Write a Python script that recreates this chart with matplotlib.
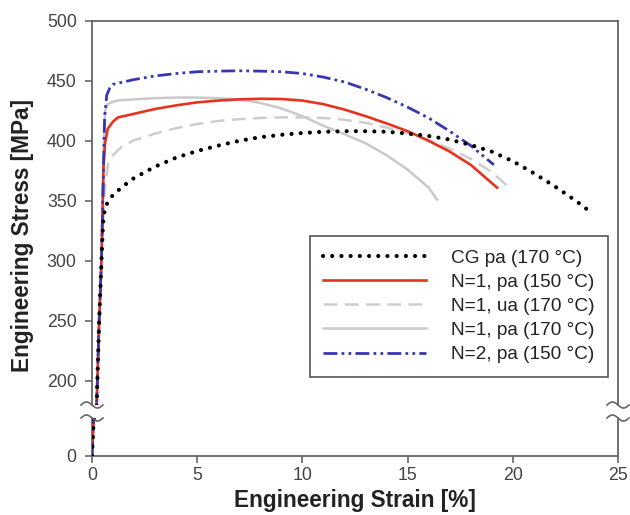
import numpy as np
import matplotlib
matplotlib.use("Agg")
import matplotlib.pyplot as plt
from matplotlib.lines import Line2D

plt.rcParams['font.family'] = ['Liberation Sans', 'DejaVu Sans']

# shared elastic part
elastic_strain = [0, 0.08, 0.22, 0.34, 0.45]
elastic_stress = [0, 30, 180, 250, 300]

cg_strain = [0.52, 0.62, 0.8, 1, 1.5, 2, 3, 4, 5, 6, 7, 8, 9, 10, 11, 12, 13, 14,
             15, 16, 17, 18, 19, 20, 21, 22, 23, 23.75]
cg_stress = [330, 345, 350, 355, 362.5, 369, 378.5, 386, 391.5, 396, 400, 403, 405,
             406.5, 407.5, 408, 408, 407.5, 406, 404, 401, 396.5, 391, 383, 373, 362,
             350, 340]

n1pa150_strain = [0.55, 0.62, 0.75, 1, 1.24, 1.5, 2, 3, 4, 5, 6, 7, 8, 9, 10, 11, 12,
                  13, 14, 15, 16, 17, 18, 19.25]
n1pa150_stress = [380, 398, 410, 416, 419.5, 420.5, 422.5, 426.5, 429.5, 432, 433.5,
                  434.5, 435, 434.8, 433.5, 430.5, 426, 420.5, 414.5, 408, 400, 391,
                  380, 361]

n1ua170_strain = [0.55, 0.62, 0.77, 1, 1.41, 2, 3, 4, 5, 6, 7, 8, 9, 10, 11, 12, 13,
                  14, 15, 16, 17, 18, 19, 19.95]
n1ua170_stress = [340, 362, 381, 388, 395, 400.5, 406, 410.5, 414, 416.5, 418, 419,
                  419.5, 419.5, 419, 417.5, 415, 411, 406.5, 400.5, 393.5, 385, 374, 359]

n1pa170_strain = [0.55, 0.62, 0.75, 1, 1.2, 2, 3, 4, 5, 6, 7, 8, 9, 10, 11, 12, 13,
                  14, 15, 16, 16.4]
n1pa170_stress = [390, 425, 430.5, 432.5, 433.5, 434.5, 435.5, 436, 436, 435.5, 434.5,
                  431.5, 427, 420.5, 412.5, 405.5, 398, 388, 376, 361, 351]

n2pa150_strain = [0.55, 0.6, 0.7, 0.85, 1, 2, 3, 4, 5, 6, 7, 8, 9, 10, 11, 12, 13, 14,
                  15, 16, 17, 18, 19.1]
n2pa150_stress = [380, 420, 438, 444, 447, 451, 454, 456, 457.5, 458, 458.3, 458,
                  457.5, 456, 453, 449, 443, 436, 428, 419, 408, 396, 380]

labels = ["CG pa (170 °C)", "N=1, pa (150 °C)", "N=1, ua (170 °C)",
          "N=1, pa (170 °C)", "N=2, pa (150 °C)"]

W, H = 630, 515
fig = plt.figure(figsize=(W / 100, H / 100), dpi=100)

x0, x1 = 92, 618
top_y0, top_y1 = 20.7, 405
bot_y0, bot_y1 = 418, 455.7
ax = fig.add_axes([x0 / W, 1 - top_y1 / H, (x1 - x0) / W, (top_y1 - top_y0) / H])
axb = fig.add_axes([x0 / W, 1 - bot_y1 / H, (x1 - x0) / W, (bot_y1 - bot_y0) / H])

styles = [
    dict(color='black', lw=3.0, ls=(0, (0.01, 2.2)), dash_capstyle='round', zorder=6),
    dict(color='#e8321e', lw=1.9, ls='-', zorder=4),
    dict(color='#cdcdcd', lw=1.8, ls=(0, (5.5, 3)), zorder=3),
    dict(color='#c9c9c9', lw=1.8, ls='-', zorder=2),
    dict(color='#3a35b0', lw=2.0, ls=(0, (5, 1.5, 1, 1.5, 1, 1.5)), zorder=5),
]
series = [(cg_strain, cg_stress), (n1pa150_strain, n1pa150_stress),
          (n1ua170_strain, n1ua170_stress), (n1pa170_strain, n1pa170_stress),
          (n2pa150_strain, n2pa150_stress)]

handles = []
for (sx, sy), st, lab in zip(series, styles, labels):
    xs = elastic_strain + sx
    ys = elastic_stress + sy
    h, = ax.plot(xs, ys, label=lab, **st)
    axb.plot(xs, ys, **st)
    handles.append(h)

spine_c = '#666666'
for a in (ax, axb):
    a.set_xlim(0, 25)
    for s in a.spines.values():
        s.set_color(spine_c)
        s.set_linewidth(1.3)
    a.tick_params(colors=spine_c, labelcolor='#444444', labelsize=12.8,
                  direction='out', length=5, width=1.2)

ax.set_ylim(180, 500)
ax.set_yticks(np.arange(200, 501, 50))
ax.spines['bottom'].set_visible(False)
ax.tick_params(axis='x', bottom=False, labelbottom=False)
ax.tick_params(axis='y', pad=6)

axb.set_ylim(0, 31)
axb.set_yticks([0])
axb.set_xticks(np.arange(0, 26, 5))
axb.spines['top'].set_visible(False)
axb.tick_params(axis='y', pad=6)
axb.tick_params(axis='x', pad=3)

leg = ax.legend(handles=handles, loc='lower right', bbox_to_anchor=(0.981, 0.073),
                borderaxespad=0, fontsize=13.7, handlelength=5.4, handletextpad=1.3,
                labelspacing=0.36, borderpad=0.72, fancybox=False, framealpha=1)
leg.get_frame().set_edgecolor('#555555')
leg.get_frame().set_linewidth(1.2)
for t in leg.get_texts():
    t.set_color('#222222')

# break marks on left and right spines
t = np.linspace(-1, 1, 40)
for px in (x0, x1):
    for py in (top_y1, bot_y0):
        xs = (px + 11 * t) / W
        ys = 1 - (py + 3 * np.sin(np.pi * t)) / H
        fig.add_artist(Line2D(xs, ys, color=spine_c, lw=1.2))

fig.text(0.035, 1 - 236 / H, "Engineering Stress [MPa]", rotation=90,
         ha='center', va='center', fontsize=16.3, fontweight='bold', color='#222222')
fig.text((x0 + x1) / 2 / W, 1 - 500 / H, "Engineering Strain [%]",
         ha='center', va='center', fontsize=16.3, fontweight='bold', color='#222222')

fig.savefig("out.png", dpi=100)
